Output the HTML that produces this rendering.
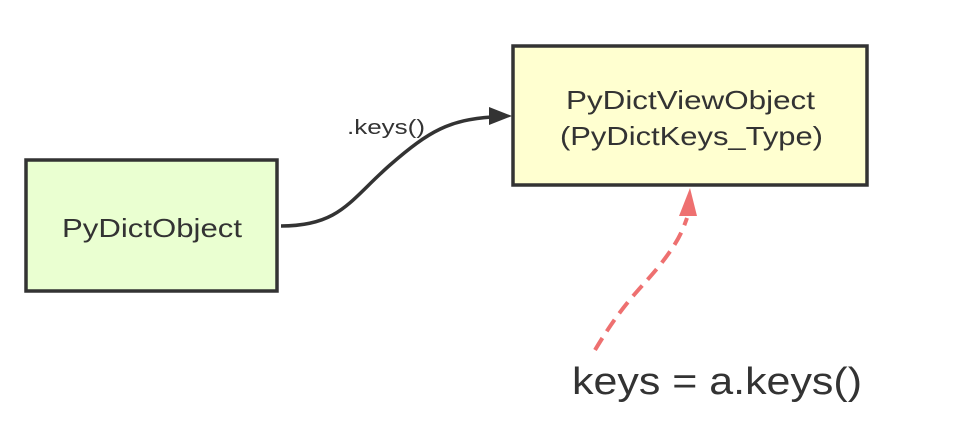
<!DOCTYPE html>
<html><head><meta charset="utf-8"><style>
html,body{margin:0;padding:0;background:#fff;width:958px;height:436px;overflow:hidden}
text{font-family:"Liberation Sans","DejaVu Sans",sans-serif;fill:#333}
</style></head><body>
<svg width="958" height="436" viewBox="0 0 958 436">
<g>
<rect x="26" y="160" width="251" height="131" fill="#eaffd1" stroke="#333" stroke-width="3.5"/>
<text x="62" y="237" font-size="26" textLength="180" lengthAdjust="spacingAndGlyphs">PyDictObject</text>
</g>
<g>
<rect x="513" y="46" width="354" height="139" fill="#ffffd0" stroke="#333" stroke-width="3.5"/>
<text x="566" y="109" font-size="26" textLength="249" lengthAdjust="spacingAndGlyphs">PyDictViewObject</text>
<text x="560" y="145" font-size="26" textLength="263" lengthAdjust="spacingAndGlyphs">(PyDictKeys_Type)</text>
</g>
<g>
<path d="M281,226 C340,226 350,200 390,165 C430,130 450,120 492,117" fill="none" stroke="#333" stroke-width="3.5"/>
<polygon points="512,116 489,107 489,125" fill="#333"/>
<text x="347" y="134" font-size="20" textLength="78" lengthAdjust="spacingAndGlyphs">.keys()</text>
</g>
<g>
<path d="M595,350 C625,300 640,290 660,265 C678,242 682,232 687,218" fill="none" stroke="#ee7070" stroke-width="4" stroke-dasharray="14,8"/>
<polygon points="690,188 679,216 697,216" fill="#ee7070"/>
</g>
<text x="572" y="394" font-size="38" textLength="290" lengthAdjust="spacingAndGlyphs">keys = a.keys()</text>
</svg>
</body></html>
